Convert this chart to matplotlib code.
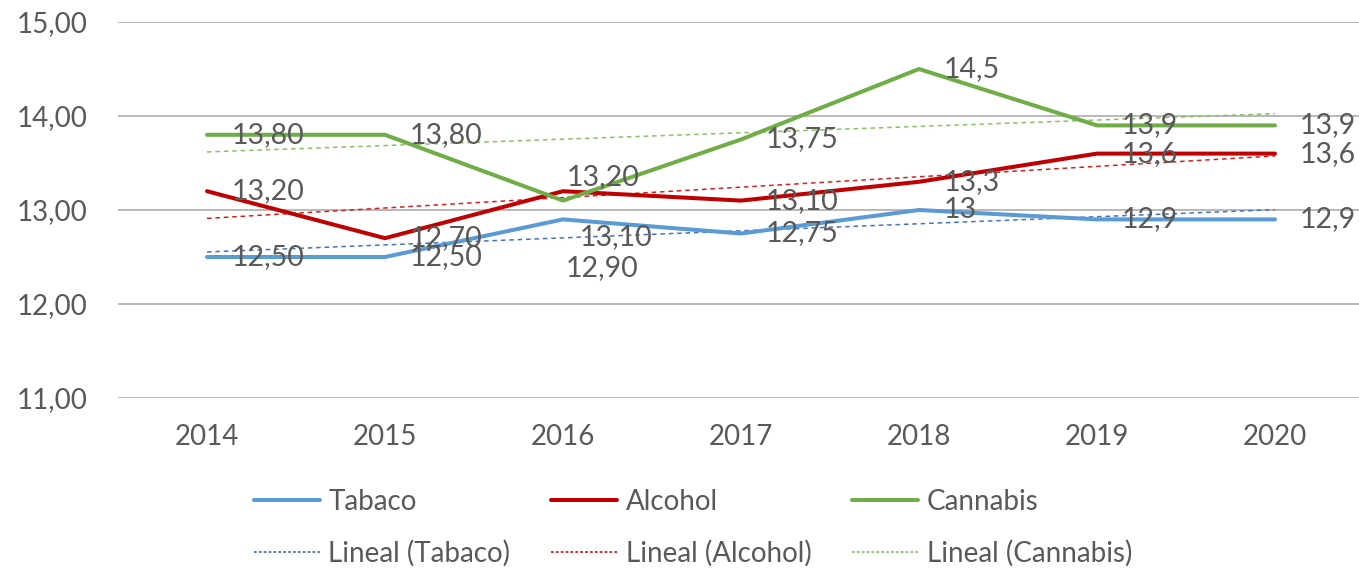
import matplotlib
matplotlib.use("Agg")
import matplotlib.pyplot as plt
import numpy as np
from matplotlib.lines import Line2D

years = ["2014", "2015", "2016", "2017", "2018", "2019", "2020"]
tabaco = [12.5, 12.5, 12.9, 12.75, 13.0, 12.9, 12.9]
alcohol = [13.2, 12.7, 13.2, 13.1, 13.3, 13.6, 13.6]
cannabis = [13.8, 13.8, 13.1, 13.75, 14.5, 13.9, 13.9]
tabaco_labels = ["12,50", "12,50", "12,90", "12,75", "13", "12,9", "12,9"]
alcohol_labels = ["13,20", "12,70", "13,20", "13,10", "13,3", "13,6", "13,6"]
cannabis_labels = ["13,80", "13,80", "13,10", "13,75", "14,5", "13,9", "13,9"]
yticks = [11, 12, 13, 14, 15]

plt.rcParams['font.family'] = ['Lato', 'DejaVu Sans']
TXT = '#595959'
FS = 20

W, H = 1359, 571
fig = plt.figure(figsize=(W / 100, H / 100), dpi=100)
ax = fig.add_axes([118 / W, (H - 398) / H, 1 - 118 / W, (398 - 22) / H])

x = np.arange(len(years))
ax.set_xlim(-0.5, (W - 207) / 178)
ax.set_ylim(11, 15)

series = [
    ("Tabaco", tabaco, tabaco_labels, '#5B9BD5', '#4472C4'),
    ("Alcohol", alcohol, alcohol_labels, '#C00000', '#D62020'),
    ("Cannabis", cannabis, cannabis_labels, '#70AD47', '#8CC168'),
]

# pixel offsets for the 2016 labels that were moved by hand in the original
moved = {("Tabaco", 2): (3, -49), ("Alcohol", 2): (4, 14), ("Cannabis", 2): (17, -36)}

handles_main = []
handles_trend = []
for name, vals, labs, col, tcol in series:
    ax.plot(x, vals, color=col, lw=2.9, solid_joinstyle='round', solid_capstyle='round', zorder=3)
    k, b = np.polyfit(x, vals, 1)
    ax.plot(x, k * x + b, color=tcol, lw=1.1, ls=(0, (3, 2.5)), zorder=2)
    handles_main.append(Line2D([], [], color=col, lw=2.9, solid_capstyle='round'))
    handles_trend.append(Line2D([], [], color=tcol, lw=1.3, ls=(0, (1.5, 1.2))))
    for i, (v, s) in enumerate(zip(vals, labs)):
        dx, dy = moved.get((name, i), (25, 0))
        ax.annotate(s, (x[i], v), xytext=(dx * 0.72, dy * 0.72), textcoords='offset points',
                    ha='left', va='center', fontsize=FS + 0.5, color=TXT, zorder=4)

ax.set_yticks(yticks)
ax.set_yticklabels([f"{t:.2f}".replace('.', ',') for t in yticks])
ax.set_xticks(x)
ax.set_xticklabels(years)
ax.tick_params(axis='both', length=0, labelsize=FS, colors=TXT)
ax.tick_params(axis='y', pad=22)
ax.tick_params(axis='x', pad=19)
ax.grid(axis='y', color='#A6A6A6', lw=1.1)
ax.set_axisbelow(True)
for sp in ax.spines.values():
    sp.set_visible(False)

handles = []
labels = []
for (name, *_), hm, ht in zip(series, handles_main, handles_trend):
    handles += [hm, ht]
    labels += [name, f"Lineal ({name})"]

leg = fig.legend(handles, labels, ncol=3, loc='center', bbox_to_anchor=(693 / W, 1 - 527.5 / H),
                 frameon=False, fontsize=FS, labelcolor=TXT, handlelength=2.37,
                 handletextpad=0.3, columnspacing=1.48, labelspacing=0.89)

fig.savefig("out.png", dpi=100)
